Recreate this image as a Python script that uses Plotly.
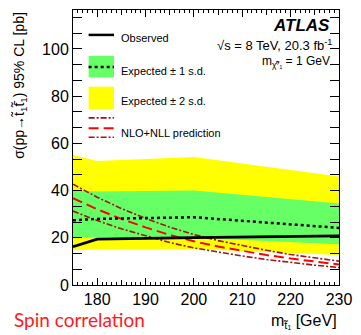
import plotly.graph_objects as go

# ---------------- data ----------------
mass = [175, 180, 200, 230]
observed = [16.2, 19.4, 20.1, 20.8]
expected = [27.4, 28.0, 28.7, 24.2]
exp_plus1 = [40.0, 39.6, 40.0, 34.5]
exp_minus1 = [20.2, 20.1, 20.0, 17.3]
exp_plus2 = [55.1, 52.5, 54.2, 46.0]
exp_minus2 = [14.8, 15.0, 15.3, 12.7]

theory_mass = [175, 180, 185, 190, 195, 200, 205, 210, 215, 220, 225, 230]
theory_xsec = [36.8, 32.1, 28.0, 24.4, 21.2, 18.5, 16.3, 14.4, 12.7, 11.2, 9.9, 8.7]
theory_up = [42.7, 37.2, 32.4, 28.2, 24.5, 21.4, 18.8, 16.6, 14.7, 12.9, 11.4, 10.1]
theory_down = [31.3, 27.3, 23.8, 20.8, 18.0, 15.7, 13.9, 12.3, 10.8, 9.5, 8.4, 7.4]

x_range = [175, 230]
y_range = [0, 116.5]
x_ticks = [180, 190, 200, 210, 220, 230]
x_mid_ticks = [175, 185, 195, 205, 215, 225]
y_ticks = [0, 20, 40, 60, 80, 100]

# ---------------- style ----------------
W, H = 361, 335
L, R, T, B = 73, 345.5, 9, 285
FONT = "Liberation Sans"
YELLOW = "#ffff00"
GREEN = "#66ff66"
RED = "#ff0000"
DARKRED = "#a01414"


def px(x):
    return (x - L) / (R - L)


def py(y):
    return (B - y) / (B - T)


fig = go.Figure()

# 2 sigma band
fig.add_trace(go.Scatter(x=mass, y=exp_minus2, mode="lines", line=dict(width=0),
                         hoverinfo="skip", showlegend=False))
fig.add_trace(go.Scatter(x=mass, y=exp_plus2, mode="lines", line=dict(width=0),
                         fill="tonexty", fillcolor=YELLOW, hoverinfo="skip", showlegend=False))
# 1 sigma band
fig.add_trace(go.Scatter(x=mass, y=exp_minus1, mode="lines", line=dict(width=0),
                         hoverinfo="skip", showlegend=False))
fig.add_trace(go.Scatter(x=mass, y=exp_plus1, mode="lines", line=dict(width=0),
                         fill="tonexty", fillcolor=GREEN, hoverinfo="skip", showlegend=False))

# theory
ddash = "6px,2px,2px,2px"
fig.add_trace(go.Scatter(x=theory_mass, y=theory_up, mode="lines",
                         line=dict(color=DARKRED, width=1.6, dash=ddash), showlegend=False))
fig.add_trace(go.Scatter(x=theory_mass, y=theory_down, mode="lines",
                         line=dict(color=DARKRED, width=1.6, dash=ddash), showlegend=False))
fig.add_trace(go.Scatter(x=theory_mass, y=theory_xsec, mode="lines",
                         line=dict(color=RED, width=2, dash="10px,5px"), showlegend=False))

# expected / observed
fig.add_trace(go.Scatter(x=mass, y=expected, mode="lines",
                         line=dict(color="black", width=2.5, dash="dot"), showlegend=False))
fig.add_trace(go.Scatter(x=mass, y=observed, mode="lines",
                         line=dict(color="black", width=2.8), showlegend=False))

# dummy trace for medium-tick axis
fig.add_trace(go.Scatter(x=[None], y=[None], xaxis="x2", showlegend=False, hoverinfo="skip"))

axis_common = dict(showgrid=False, zeroline=False, showline=True, linecolor="black",
                   linewidth=1, mirror="allticks", ticks="inside", tickcolor="black",
                   tickfont=dict(family=FONT, size=16, color="black"))

fig.update_layout(
    width=W, height=H,
    margin=dict(l=L, r=W - R, t=T, b=H - B, pad=0),
    paper_bgcolor="white", plot_bgcolor="white",
    font=dict(family=FONT, color="black"),
    xaxis=dict(range=x_range, tickvals=x_ticks, ticklen=7, tickwidth=1,
               minor=dict(dtick=1, tick0=175, ticklen=3, ticks="inside", tickcolor="black"),
               **axis_common),
    xaxis2=dict(range=x_range, overlaying="x", side="bottom", tickvals=x_mid_ticks,
                ticks="inside", ticklen=5, tickcolor="black", showticklabels=False,
                showgrid=False, zeroline=False, showline=False, mirror="allticks"),
    yaxis=dict(range=y_range, tickvals=y_ticks, ticklen=9, tickwidth=1,
               minor=dict(dtick=20 / 3, tick0=0, ticklen=4, ticks="inside", tickcolor="black"),
               **axis_common),
)

shapes = []
# legend swatches
lx0, lx1 = px(89), px(115)
shapes.append(dict(type="line", xref="paper", yref="paper", x0=lx0, x1=lx1, y0=py(34), y1=py(34),
                   line=dict(color="black", width=2.5)))
shapes.append(dict(type="rect", xref="paper", yref="paper", x0=lx0, x1=lx1, y0=py(76.7), y1=py(55),
                   fillcolor=GREEN, line=dict(width=0)))
shapes.append(dict(type="line", xref="paper", yref="paper", x0=lx0, x1=lx1, y0=py(66.3), y1=py(66.3),
                   line=dict(color="black", width=2.5, dash="dot")))
shapes.append(dict(type="rect", xref="paper", yref="paper", x0=lx0, x1=lx1, y0=py(108.3), y1=py(86),
                   fillcolor=YELLOW, line=dict(width=0)))
shapes.append(dict(type="line", xref="paper", yref="paper", x0=lx0, x1=lx1, y0=py(117.3), y1=py(117.3),
                   line=dict(color=DARKRED, width=1.6, dash=ddash)))
shapes.append(dict(type="line", xref="paper", yref="paper", x0=lx0, x1=lx1, y0=py(127.7), y1=py(127.7),
                   line=dict(color=RED, width=2, dash="10px,5px")))
shapes.append(dict(type="line", xref="paper", yref="paper", x0=lx0, x1=lx1, y0=py(136.7), y1=py(136.7),
                   line=dict(color=DARKRED, width=1.6, dash=ddash)))
fig.update_layout(shapes=shapes)

ann = []


def text(x, y, s, size, xanchor="left", yanchor="middle", color="black", family=FONT, angle=0):
    ann.append(dict(xref="paper", yref="paper", x=x, y=y, text=s, showarrow=False,
                    xanchor=xanchor, yanchor=yanchor, textangle=angle,
                    font=dict(family=family, size=size, color=color)))


text(px(120), py(37.5), "Observed", 11)
text(px(120), py(70), "Expected ± 1 s.d.", 11)
text(px(120), py(100.7), "Expected ± 2 s.d.", 11)
text(px(120), py(132), "NLO+NLL prediction", 11)

text(px(338), py(25), "<b><i>ATLAS</i></b>", 17, xanchor="right")
text(px(340), py(44), "√s = 8 TeV, 20.3 fb<sup>-1</sup>", 13, xanchor="right")
text(px(338), py(61), "m<sub>χ̃⁰₁</sub> = 1 GeV", 12, xanchor="right")

text(px(18), 1.0, "σ(pp→t\u0303<sub>1</sub>t\u0303\u0304<sub>1</sub>) 95% CL [pb]", 14,
     xanchor="center", yanchor="top", angle=-90)
text(px(346), py(321.7), "m<sub>t̃₁</sub> [GeV]", 16, xanchor="right")
text(px(10), py(320), "Spin correlation", 19, color="#ff1a1a", family="Lato")

fig.update_layout(annotations=ann)

fig.write_html("out.html", post_script="document.body.style.margin='0';",
               config={"displayModeBar": False})
